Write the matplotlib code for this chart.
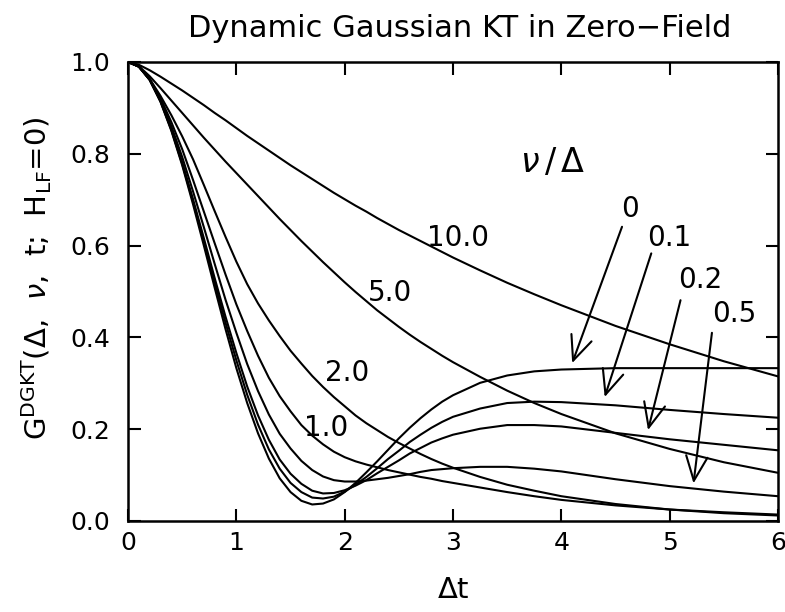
import matplotlib
matplotlib.use("Agg")
import matplotlib.pyplot as plt

# reduced time grid, Delta*t
dt = [0.0, 0.1, 0.2, 0.3, 0.4, 0.5, 0.6, 0.7, 0.8, 0.9,
      1.0, 1.1, 1.2, 1.3, 1.4, 1.5, 1.6, 1.7, 1.8, 1.9,
      2.0, 2.1, 2.2, 2.3, 2.4, 2.5, 2.6, 2.7, 2.8, 2.9,
      3.0, 3.25, 3.5, 3.75, 4.0, 4.5, 5.0, 5.5, 6.0]

# polarization G(t) for each hopping rate nu/Delta
g_0 = [1.000, 0.990, 0.961, 0.913, 0.850, 0.775, 0.690, 0.600, 0.508, 0.418,
       0.333, 0.257, 0.191, 0.136, 0.093, 0.063, 0.044, 0.036, 0.038, 0.047,
       0.063, 0.083, 0.106, 0.130, 0.155, 0.180, 0.203, 0.224, 0.243, 0.260,
       0.274, 0.301, 0.317, 0.326, 0.330, 0.333, 0.333, 0.333, 0.333]
g_01 = [1.000, 0.990, 0.961, 0.914, 0.852, 0.778, 0.696, 0.608, 0.519, 0.432,
        0.350, 0.275, 0.210, 0.156, 0.114, 0.083, 0.063, 0.051, 0.049, 0.053,
        0.064, 0.079, 0.096, 0.115, 0.135, 0.153, 0.172, 0.188, 0.203, 0.216,
        0.227, 0.245, 0.257, 0.260, 0.259, 0.252, 0.242, 0.233, 0.225]
g_02 = [1.000, 0.990, 0.961, 0.915, 0.854, 0.782, 0.701, 0.616, 0.529, 0.445,
        0.366, 0.293, 0.230, 0.177, 0.134, 0.103, 0.081, 0.066, 0.060, 0.061,
        0.067, 0.077, 0.089, 0.104, 0.118, 0.132, 0.147, 0.159, 0.171, 0.180,
        0.188, 0.201, 0.209, 0.209, 0.206, 0.192, 0.178, 0.166, 0.154]
g_05 = [1.000, 0.990, 0.962, 0.917, 0.860, 0.793, 0.718, 0.640, 0.560, 0.482,
        0.410, 0.342, 0.283, 0.232, 0.190, 0.158, 0.131, 0.111, 0.097, 0.089,
        0.086, 0.086, 0.088, 0.091, 0.094, 0.098, 0.102, 0.107, 0.111, 0.113,
        0.115, 0.118, 0.118, 0.114, 0.108, 0.091, 0.076, 0.064, 0.054]
g_1 = [1.000, 0.990, 0.963, 0.921, 0.869, 0.810, 0.743, 0.674, 0.605, 0.537,
       0.472, 0.414, 0.360, 0.312, 0.272, 0.239, 0.209, 0.186, 0.167, 0.151,
       0.139, 0.130, 0.123, 0.117, 0.111, 0.106, 0.101, 0.096, 0.092, 0.087,
       0.083, 0.073, 0.063, 0.054, 0.046, 0.034, 0.025, 0.019, 0.014]
g_2 = [1.000, 0.990, 0.963, 0.926, 0.884, 0.838, 0.788, 0.732, 0.675, 0.619,
       0.565, 0.516, 0.474, 0.437, 0.403, 0.371, 0.343, 0.316, 0.292, 0.270,
       0.250, 0.230, 0.213, 0.198, 0.183, 0.170, 0.158, 0.146, 0.135, 0.125,
       0.116, 0.096, 0.079, 0.066, 0.054, 0.037, 0.025, 0.017, 0.012]
g_5 = [1.000, 0.991, 0.969, 0.943, 0.916, 0.889, 0.862, 0.835, 0.809, 0.783,
       0.758, 0.733, 0.708, 0.683, 0.658, 0.634, 0.610, 0.587, 0.564, 0.542,
       0.520, 0.499, 0.479, 0.459, 0.441, 0.423, 0.406, 0.390, 0.375, 0.360,
       0.346, 0.314, 0.284, 0.257, 0.233, 0.191, 0.157, 0.128, 0.105]
g_10 = [1.000, 0.994, 0.982, 0.968, 0.953, 0.938, 0.922, 0.906, 0.889, 0.873,
        0.856, 0.839, 0.823, 0.807, 0.791, 0.775, 0.760, 0.745, 0.730, 0.715,
        0.701, 0.687, 0.674, 0.660, 0.647, 0.634, 0.622, 0.610, 0.598, 0.586,
        0.574, 0.546, 0.519, 0.494, 0.470, 0.425, 0.385, 0.348, 0.315]

curves = [g_0, g_01, g_02, g_05, g_1, g_2, g_5, g_10]

fig = plt.figure(figsize=(7.85, 6.12), dpi=100)
ax = fig.add_axes([0.1631, 0.1487, 0.828, 0.75])

for g in curves:
    ax.plot(dt, g, color='k', lw=1.5)

ax.set_xlim(0, 6)
ax.set_ylim(0, 1)
ax.set_xticks([0, 1, 2, 3, 4, 5, 6])
ax.set_yticks([0.0, 0.2, 0.4, 0.6, 0.8, 1.0])
ax.set_yticklabels(['0.0', '0.2', '0.4', '0.6', '0.8', '1.0'])
ax.tick_params(direction='in', length=9, width=1.5, top=True, right=True,
               labelsize=18)
ax.tick_params(axis='x', pad=7)
ax.tick_params(axis='y', pad=13)
for s in ax.spines.values():
    s.set_linewidth(1.8)

ax.set_xlabel(r'$\Delta$t', fontsize=21)
ax.xaxis.set_label_coords(0.5, -0.12)
fig.text(0.047, 0.545, r'G$^{\mathrm{DGKT}}$($\Delta$,  $\nu$,  t;  H$_{\mathrm{LF}}$=0)',
         rotation=90, ha='center', va='center', fontsize=21)
fig.text(0.585, 0.954, 'Dynamic Gaussian KT in Zero\u2212Field',
         ha='center', va='center', fontsize=22)

# labels on the fast-hopping curves
ax.text(3.05, 0.617, '10.0', fontsize=20, ha='center', va='center')
ax.text(2.42, 0.496, '5.0', fontsize=20, ha='center', va='center')
ax.text(2.02, 0.323, '2.0', fontsize=20, ha='center', va='center')
ax.text(1.83, 0.202, '1.0', fontsize=20, ha='center', va='center')

ax.text(3.92, 0.78, r'$\nu\,/\,\Delta$', fontsize=24, ha='center', va='center')

# slow-hopping curves are labelled with arrows
arrow_labels = ['0', '0.1', '0.2', '0.5']
label_pos = [(4.63, 0.679), (5.00, 0.617), (5.28, 0.524), (5.60, 0.452)]
arrow_tail = [(4.56, 0.641), (4.83, 0.583), (5.10, 0.481), (5.39, 0.410)]
arrow_tip = [(4.10, 0.344), (4.40, 0.270), (4.80, 0.198), (5.22, 0.082)]
for lab, p, a, b in zip(arrow_labels, label_pos, arrow_tail, arrow_tip):
    ax.text(p[0], p[1], lab, fontsize=20, ha='center', va='center')
    ax.annotate('', xy=b, xytext=a,
                arrowprops=dict(arrowstyle='->,head_length=0.8,head_width=0.35',
                                lw=1.5, color='k', shrinkA=0, shrinkB=0,
                                mutation_scale=22))

fig.savefig('out.png', dpi=100, facecolor='white')
